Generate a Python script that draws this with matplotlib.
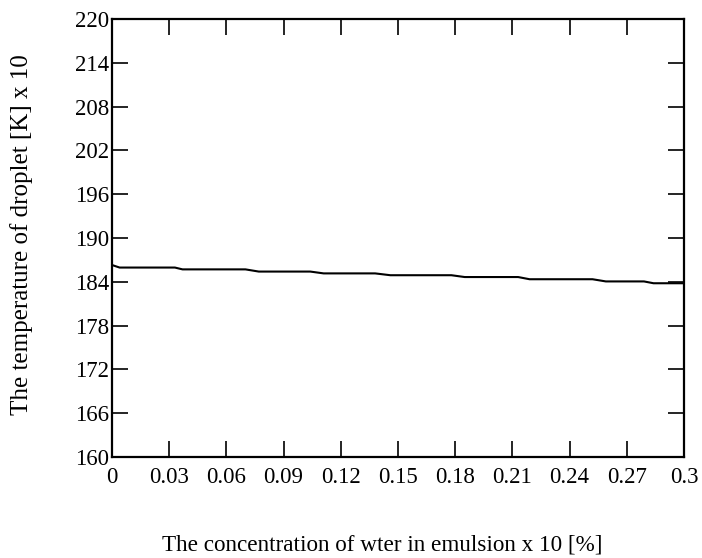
import matplotlib
matplotlib.use('Agg')
from matplotlib import pyplot as plt

plt.rcParams['font.family'] = ['Liberation Serif', 'DejaVu Serif']

# concentration (x 10 %) and droplet temperature (K x 10)
conc = [0, 0.004, 0.033, 0.037, 0.070, 0.077, 0.104, 0.111, 0.138, 0.146,
        0.178, 0.185, 0.213, 0.219, 0.252, 0.259, 0.279, 0.284, 0.3]
temp = [186.3, 185.95, 185.95, 185.7, 185.7, 185.4, 185.4, 185.15, 185.15, 184.9,
        184.9, 184.65, 184.65, 184.35, 184.35, 184.05, 184.05, 183.8, 183.8]

xticks = [0, 0.03, 0.06, 0.09, 0.12, 0.15, 0.18, 0.21, 0.24, 0.27, 0.3]
xlabels = ['0', '0.03', '0.06', '0.09', '0.12', '0.15', '0.18', '0.21', '0.24', '0.27', '0.3']
yticks = [160, 166, 172, 178, 184, 190, 196, 202, 208, 214, 220]

fig = plt.figure(figsize=(7.02, 5.58), dpi=100)
ax = fig.add_axes([0.1595, 0.181, 0.8149, 0.785])
ax.plot(conc, temp, color='black', linewidth=1.5)

ax.set_xlim(0, 0.3)
ax.set_ylim(160, 220)
ax.set_xticks(xticks)
ax.set_xticklabels(xlabels)
ax.set_yticks(yticks)
ax.tick_params(direction='in', length=11.5, width=1.2, labelsize=16.5,
               top=True, right=True, colors='black')
ax.tick_params(axis='y', pad=2)
ax.tick_params(axis='x', pad=7)
for s in ax.spines.values():
        s.set_linewidth(1.6)

fig.text(0.544, 0.024, 'The concentration of wter in emulsion x 10 [%]',
         ha='center', va='center', fontsize=16.7)
fig.text(0.03, 0.58, 'The temperature of droplet [K] x 10', rotation=90,
         ha='center', va='center', fontsize=18)

fig.savefig('out.png', dpi=100)
